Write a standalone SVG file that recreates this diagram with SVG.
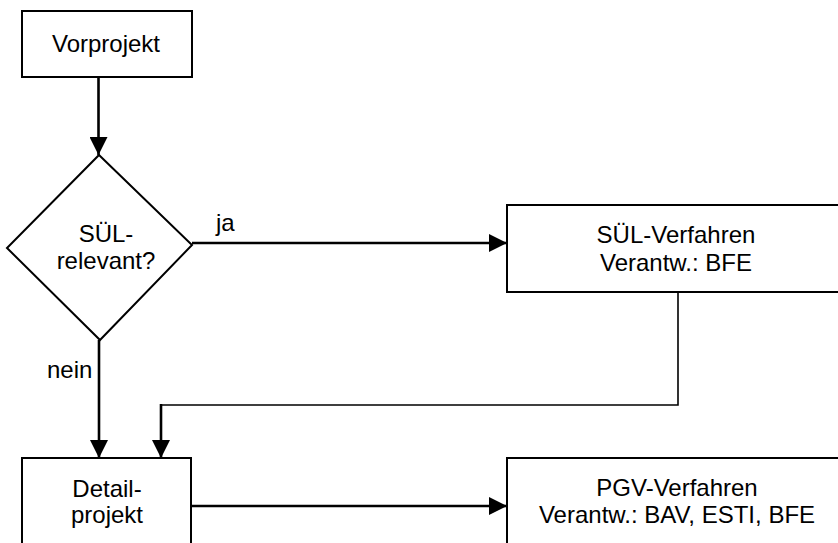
<svg xmlns="http://www.w3.org/2000/svg" width="838" height="543" viewBox="0 0 838 543">
<style>
.box{fill:#fff;stroke:#000;stroke-width:2}
.t{font-family:"Liberation Sans",Arial,sans-serif;font-size:24px;fill:#000;text-anchor:middle}
.l{font-family:"Liberation Sans",Arial,sans-serif;font-size:24px;fill:#000}
.c{fill:none;stroke:#000;stroke-width:2.6}
.thin{fill:none;stroke:#000;stroke-width:1.6}
</style>
<defs>
<marker id="ah" markerUnits="userSpaceOnUse" markerWidth="18" markerHeight="18" viewBox="0 0 16 16" refX="16" refY="8" orient="auto">
<path d="M0,0 L16,8 L0,16 Z" fill="#000"/>
</marker>
</defs>
<rect width="838" height="543" fill="#fff"/>
<g id="connectors">
<line class="c" x1="98.5" y1="77" x2="98.5" y2="155" marker-end="url(#ah)"/>
<line class="c" x1="192" y1="243" x2="507" y2="243" marker-end="url(#ah)"/>
<line class="c" x1="99" y1="340" x2="99" y2="458" marker-end="url(#ah)"/>
<polyline class="thin" points="678,292 678,405 161,405"/>
<line class="c" x1="161" y1="404" x2="161" y2="458" marker-end="url(#ah)"/>
<line class="c" x1="191" y1="506" x2="507" y2="506" marker-end="url(#ah)"/>
<text class="l" x="216" y="231">ja</text>
<text class="l" x="47" y="378">nein</text>
</g>
<g id="vorprojekt">
<rect class="box" x="22" y="11" width="170" height="66"/>
<text class="t" x="106" y="52">Vorprojekt</text>
</g>
<g id="suel-relevant">
<polygon class="box" points="99,155 192,245 100,340 7,248"/>
<text class="t" x="106" y="242">SÜL-</text>
<text class="t" x="106" y="269">relevant?</text>
</g>
<g id="suel-verfahren">
<rect class="box" x="507" y="205" width="340" height="87"/>
<text class="t" x="676" y="243">SÜL-Verfahren</text>
<text class="t" x="676" y="271">Verantw.: BFE</text>
</g>
<g id="detailprojekt">
<rect class="box" x="22" y="458" width="169" height="100"/>
<text class="t" x="107" y="497">Detail-</text>
<text class="t" x="107" y="523">projekt</text>
</g>
<g id="pgv-verfahren">
<rect class="box" x="507" y="458" width="340" height="100"/>
<text class="t" x="677" y="496">PGV-Verfahren</text>
<text class="t" x="677" y="523">Verantw.: BAV, ESTI, BFE</text>
</g>
</svg>
